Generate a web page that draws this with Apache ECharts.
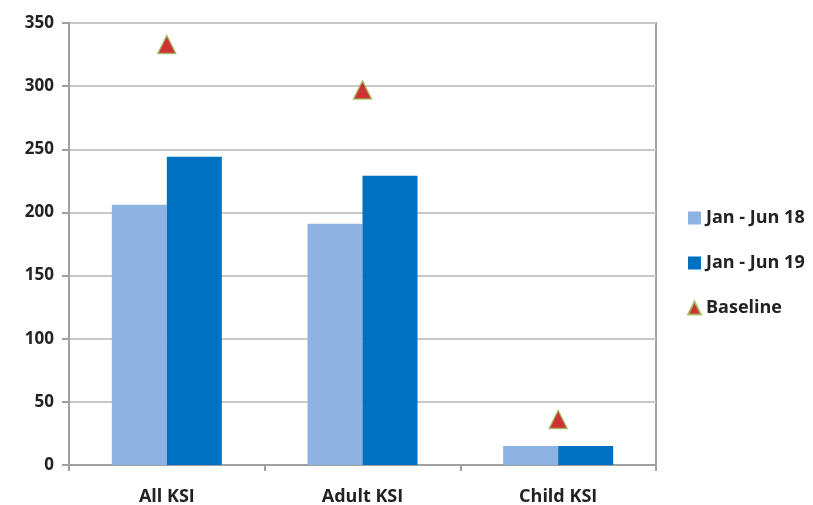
<!DOCTYPE html>
<html>
<head>
<meta charset="utf-8">
<script src="https://cdn.jsdelivr.net/npm/echarts@6/dist/echarts.min.js"></script>
<style>html,body{margin:0;padding:0;background:#fff;}#c{width:813px;height:505px;}</style>
</head>
<body>
<div id="c"></div>
<script>
const categories = ['All KSI', 'Adult KSI', 'Child KSI'];
const jan18 = [206, 191, 15];
const jan19 = [244, 229, 15];
const baseline = [333, 297, 36];
const yTicks = [0, 50, 100, 150, 200, 250, 300, 350];

const chart = echarts.init(document.getElementById('c'));
const font = 'Open Sans, Liberation Sans, sans-serif';
chart.setOption({
  animation: false,
  grid: { left: 69, right: 157, top: 23, bottom: 40, outerBoundsMode: 'none', containLabel: false, show: true, borderColor: '#a0a0a0', borderWidth: 2, backgroundColor: 'transparent' },
  legend: {
    orient: 'vertical',
    left: 682,
    top: 204,
    itemGap: 27,
    itemWidth: 13,
    itemHeight: 13,
    textStyle: { fontFamily: font, fontSize: 18, fontWeight: 'bold', color: '#222' },
    data: [
      { name: 'Jan - Jun 18', icon: 'rect' },
      { name: 'Jan - Jun 19', icon: 'rect' },
      { name: 'Baseline', icon: 'triangle' }
    ]
  },
  xAxis: {
    type: 'category',
    data: categories,
    axisLine: { lineStyle: { color: '#a0a0a0', width: 2 } },
    axisTick: { show: true, length: 6, lineStyle: { color: '#a0a0a0', width: 2 } },
    axisLabel: { fontFamily: font, fontSize: 18, fontWeight: 'bold', color: '#222', margin: 23 }
  },
  yAxis: {
    type: 'value',
    min: yTicks[0],
    max: yTicks[yTicks.length - 1],
    interval: 50,
    axisLine: { show: true, lineStyle: { color: '#a0a0a0', width: 2 } },
    axisTick: { show: true, length: 7, lineStyle: { color: '#a0a0a0', width: 2 } },
    splitLine: { lineStyle: { color: '#c8c8c8', width: 2 } },
    axisLabel: { fontFamily: font, fontSize: 17, fontWeight: 'bold', color: '#222', margin: 15 }
  },
  series: [
    {
      name: 'Jan - Jun 18', type: 'bar', data: jan18, barWidth: 55, barGap: '0%',
      itemStyle: { color: '#8DB3E2' }
    },
    {
      name: 'Jan - Jun 19', type: 'bar', data: jan19, barWidth: 55,
      itemStyle: { color: '#0070C0' }
    },
    {
      name: 'Baseline', type: 'scatter', data: baseline, symbol: 'triangle', symbolSize: 18,
      itemStyle: { color: '#C00000', borderColor: '#9BBB59', borderWidth: 1.5 },
      z: 5
    }
  ]
});
</script>
</body>
</html>
